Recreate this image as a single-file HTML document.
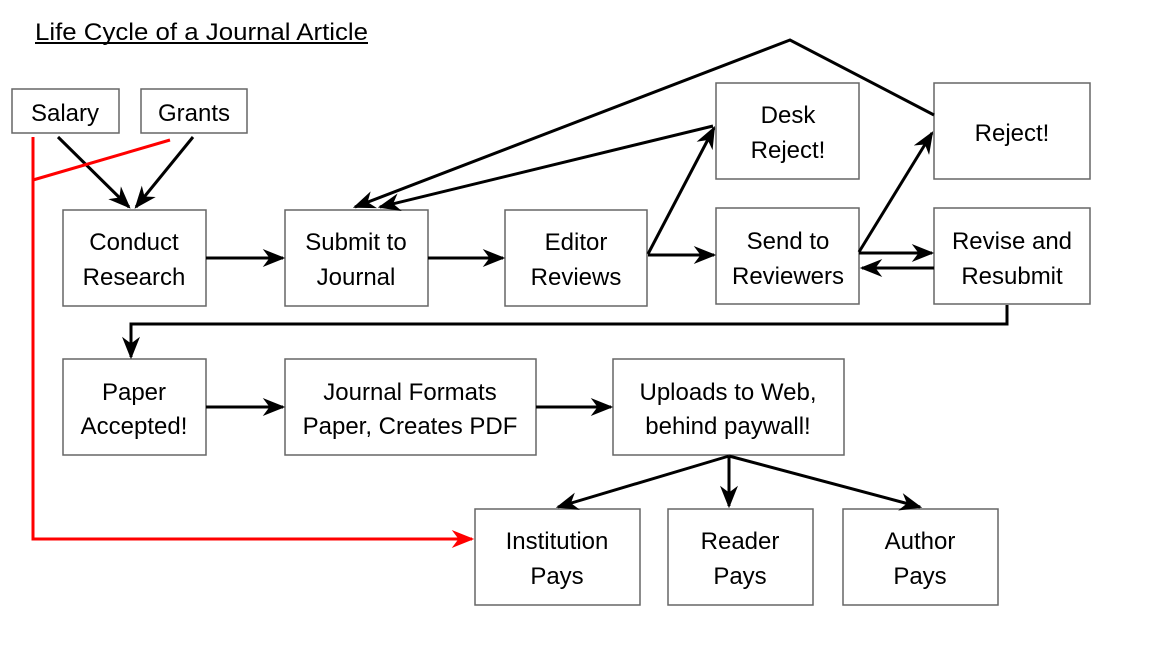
<!DOCTYPE html>
<html><head><meta charset="utf-8"><style>
html,body{margin:0;padding:0;background:#fff;}
svg{display:block;font-family:"Liberation Sans",sans-serif;}
</style></head><body>
<svg width="1149" height="648" viewBox="0 0 1149 648" xmlns="http://www.w3.org/2000/svg">
<defs>
<marker id="a" viewBox="0 0 20 16" refX="18" refY="8" markerWidth="23" markerHeight="18" markerUnits="userSpaceOnUse" orient="auto">
<path d="M0,0 L20,8 L0,16 L6,8 Z" fill="#000"/></marker>
<marker id="r" viewBox="0 0 20 16" refX="18" refY="8" markerWidth="23" markerHeight="18" markerUnits="userSpaceOnUse" orient="auto">
<path d="M0,0 L20,8 L0,16 L6,8 Z" fill="#f00"/></marker>
</defs>
<text x="35" y="40" font-size="24" textLength="333" lengthAdjust="spacingAndGlyphs">Life Cycle of a Journal Article</text>
<line x1="35" y1="43" x2="368" y2="43" stroke="#000" stroke-width="2"/>
<g fill="#fff" stroke="#666" stroke-width="1.5">
<rect x="12" y="89" width="107" height="44"/>
<rect x="141" y="89" width="106" height="44"/>
<rect x="63" y="210" width="143" height="96"/>
<rect x="285" y="210" width="143" height="96"/>
<rect x="505" y="210" width="142" height="96"/>
<rect x="716" y="83" width="143" height="96"/>
<rect x="716" y="208" width="143" height="96"/>
<rect x="934" y="83" width="156" height="96"/>
<rect x="934" y="208" width="156" height="96"/>
<rect x="63" y="359" width="143" height="96"/>
<rect x="285" y="359" width="251" height="96"/>
<rect x="613" y="359" width="231" height="96"/>
<rect x="475" y="509" width="165" height="96"/>
<rect x="668" y="509" width="145" height="96"/>
<rect x="843" y="509" width="155" height="96"/>
</g>
<g font-size="24" text-anchor="middle" fill="#000">
<text x="65" y="121">Salary</text>
<text x="194" y="121">Grants</text>
<text x="134" y="250">Conduct</text><text x="134" y="285">Research</text>
<text x="356" y="250">Submit to</text><text x="356" y="285">Journal</text>
<text x="576" y="250">Editor</text><text x="576" y="285">Reviews</text>
<text x="788" y="123">Desk</text><text x="788" y="158">Reject!</text>
<text x="788" y="249">Send to</text><text x="788" y="284">Reviewers</text>
<text x="1012" y="141">Reject!</text>
<text x="1012" y="249">Revise and</text><text x="1012" y="284">Resubmit</text>
<text x="134" y="400">Paper</text><text x="134" y="434">Accepted!</text>
<text x="410" y="400">Journal Formats</text><text x="410" y="434">Paper, Creates PDF</text>
<text x="728" y="400">Uploads to Web,</text><text x="728" y="434">behind paywall!</text>
<text x="557" y="549">Institution</text><text x="557" y="584">Pays</text>
<text x="740" y="549">Reader</text><text x="740" y="584">Pays</text>
<text x="920" y="549">Author</text><text x="920" y="584">Pays</text>
</g>
<g stroke="#000" stroke-width="3" fill="none" marker-end="url(#a)">
<line x1="58" y1="137" x2="129" y2="207"/>
<line x1="193" y1="137" x2="136" y2="207"/>
<line x1="206" y1="258" x2="283" y2="258"/>
<line x1="428" y1="258" x2="503" y2="258"/>
<line x1="648" y1="254" x2="714" y2="128"/>
<line x1="648" y1="255" x2="714" y2="255"/>
<line x1="713" y1="126" x2="380" y2="207"/>
<polyline points="934,115 790,40 355,207"/>
<line x1="859" y1="252" x2="932" y2="133"/>
<line x1="859" y1="253" x2="932" y2="253"/>
<line x1="934" y1="268" x2="862" y2="268"/>
<polyline points="1007,305 1007,324 131,324 131,357"/>
<line x1="206" y1="407" x2="283" y2="407"/>
<line x1="536" y1="407" x2="611" y2="407"/>
<line x1="729" y1="456" x2="558" y2="507"/>
<line x1="729" y1="456" x2="729" y2="506"/>
<line x1="729" y1="456" x2="920" y2="507"/>
</g>
<g stroke="#f00" stroke-width="3" fill="none">
<line x1="170" y1="140" x2="33" y2="180"/>
<polyline points="33,137 33,539 472,539" marker-end="url(#r)"/>
</g>
</svg>
</body></html>
